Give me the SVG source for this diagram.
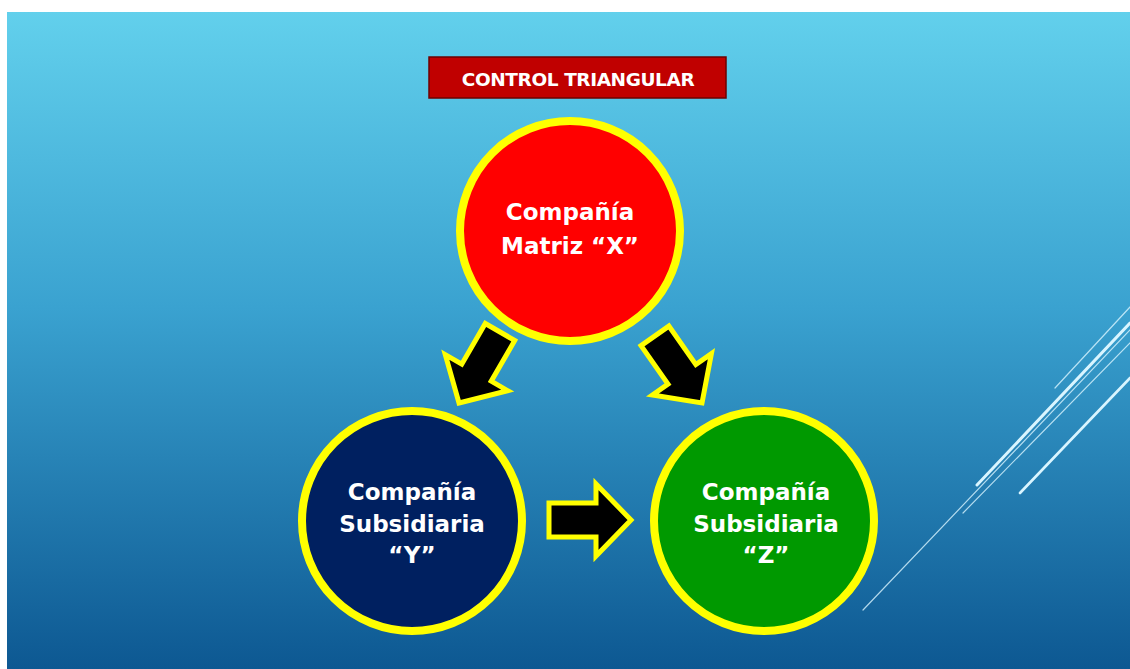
<svg xmlns="http://www.w3.org/2000/svg" width="1130" height="669" viewBox="0 0 1130 669">
  <defs>
    <linearGradient id="bg" x1="0" y1="0" x2="0" y2="1">
      <stop offset="0" stop-color="#62d0ec"/>
      <stop offset="0.45" stop-color="#3aa2d0"/>
      <stop offset="1" stop-color="#0d5892"/>
    </linearGradient>
    <path id="arrow" d="M0,0 L-35,-36 L-35,-17 L-82,-17 L-82,17 L-35,17 L-35,36 Z"/>
  </defs>
  <style>
    .node-circle { stroke: #ffff00; stroke-width: 8; }
    .lbl { font-family: "DejaVu Sans", "Liberation Sans", sans-serif; font-weight: bold; font-size: 23px; fill: #ffffff; text-anchor: middle; }
    .arr { fill: #000000; stroke: #ffff00; stroke-width: 5; stroke-linejoin: miter; }
    .deco { stroke: #d9f5ff; stroke-linecap: round; fill: none; }
  </style>

  <rect x="0" y="0" width="1130" height="669" fill="#ffffff"/>
  <rect x="7" y="12" width="1123" height="657" fill="url(#bg)"/>

  <g id="decoration">
    <line class="deco" x1="1055" y1="388" x2="1130" y2="307" stroke-width="1.2" opacity="0.8"/>
    <line class="deco" x1="977" y1="485" x2="1130" y2="323" stroke-width="3"/>
    <line class="deco" x1="863" y1="610" x2="1130" y2="330" stroke-width="1.2" opacity="0.8"/>
    <line class="deco" x1="963" y1="513" x2="1130" y2="343" stroke-width="1.2" opacity="0.8"/>
    <line class="deco" x1="1020" y1="493" x2="1130" y2="378" stroke-width="2.6"/>
  </g>

  <g id="title">
    <rect x="429" y="57" width="297" height="41" fill="#c00000" stroke="#6e0000" stroke-width="1.5"/>
    <text x="578" y="86" font-family="DejaVu Sans, Liberation Sans, sans-serif" font-weight="bold" font-size="18.5" letter-spacing="-0.4" fill="#ffffff" text-anchor="middle">CONTROL TRIANGULAR</text>
  </g>

  <g id="connectors">
    <use href="#arrow" class="arr" transform="translate(459,403) rotate(120)"/>
    <use href="#arrow" class="arr" transform="translate(702,403) rotate(55)"/>
    <use href="#arrow" class="arr" transform="translate(631,520)"/>
  </g>

  <g id="node-x">
    <circle class="node-circle" cx="570" cy="231" r="110" fill="#ff0000"/>
    <text class="lbl" x="570" y="220">Compañía</text>
    <text class="lbl" x="570" y="254">Matriz “X”</text>
  </g>

  <g id="node-y">
    <circle class="node-circle" cx="412" cy="521" r="110" fill="#002060"/>
    <text class="lbl" x="412" y="500">Compañía</text>
    <text class="lbl" x="412" y="532">Subsidiaria</text>
    <text class="lbl" x="412" y="563">“Y”</text>
  </g>

  <g id="node-z">
    <circle class="node-circle" cx="764" cy="521" r="110" fill="#009900"/>
    <text class="lbl" x="766" y="500">Compañía</text>
    <text class="lbl" x="766" y="532">Subsidiaria</text>
    <text class="lbl" x="766" y="563">“Z”</text>
  </g>
</svg>
